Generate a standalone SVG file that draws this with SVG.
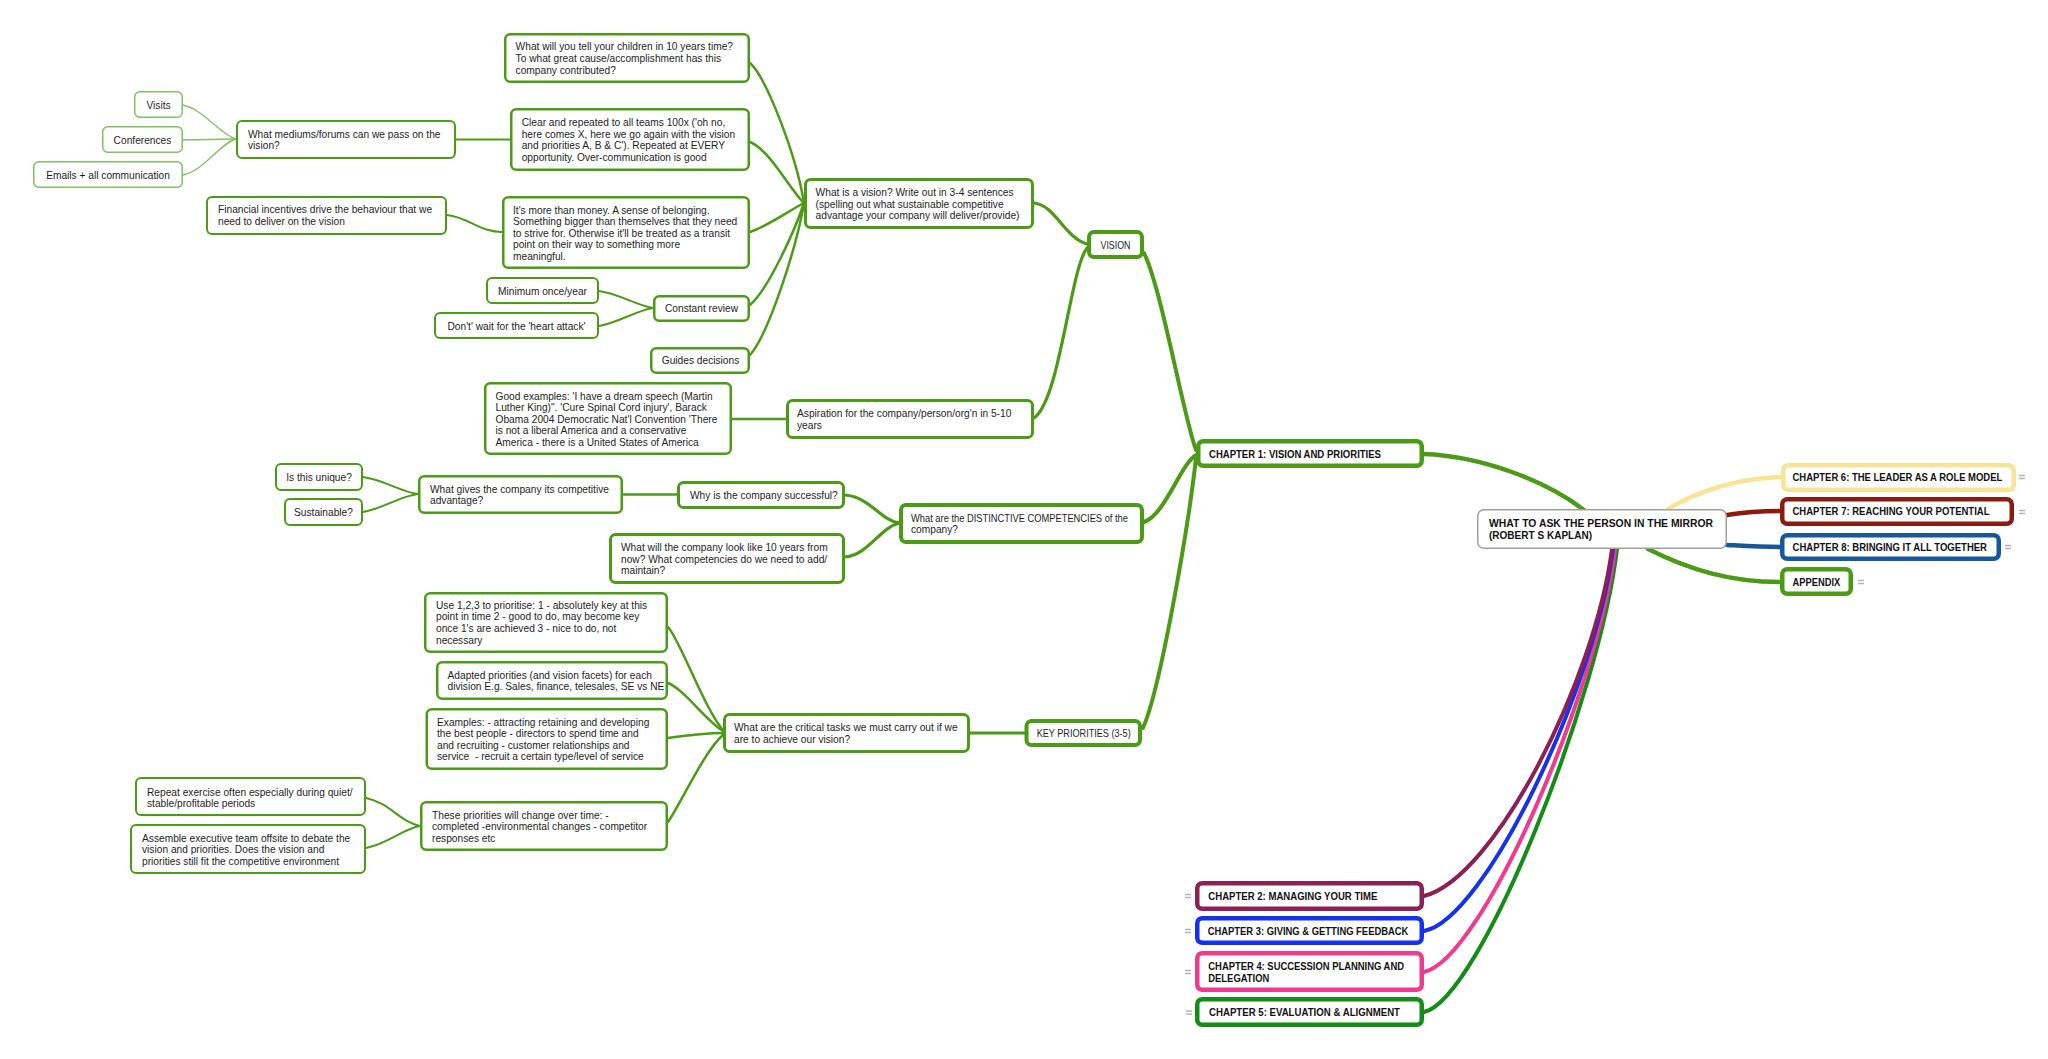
<svg xmlns="http://www.w3.org/2000/svg" width="2048" height="1059" viewBox="0 0 2048 1059">
<style>
rect.n{fill:#fff;stroke:#4b9b17}
.w1{stroke-width:4.5}
.w2{stroke-width:4}
.w3{stroke-width:3}
.w4{stroke-width:2.5}
.w5{stroke-width:2}
rect.w6{stroke-width:1.5;stroke:#82c065}
text{font-family:"Liberation Sans",Arial,sans-serif;font-size:10.2px;fill:#1e1e1e}
.m{text-anchor:middle}
.h{font-weight:bold;fill:#111}
#connectors path{fill:none;stroke:#4b9b17;stroke-linecap:round}
#connectors .c1{stroke-width:4.5}
#connectors .c2{stroke-width:4}
#connectors .c3{stroke-width:3.2}
#connectors .c4{stroke-width:2.5}
#connectors .c5{stroke-width:2}
#connectors .c6{stroke-width:1.3;stroke:#82c065}
.eq{stroke:#b4b4b4;stroke-width:1.3;fill:none}
</style>
<rect x="0" y="0" width="2048" height="1059" fill="#ffffff"/>

<g id="connectors">
  <!-- from central -->
  <path class="c1" d="M1584,510 C1545,480 1480,456 1424,454"/>
  <path class="c1" style="stroke:#f9e394" d="M1668,509 C1700,490 1740,478 1781,477"/>
  <path class="c1" style="stroke:#8e1a0f" d="M1727,515 C1745,512 1760,511 1780,511"/>
  <path class="c1" style="stroke:#16589a" d="M1727,545 C1745,546 1760,547 1780,547"/>
  <path class="c1" d="M1648,549 C1690,570 1730,582 1780,582"/>
  <path class="c2" style="stroke:#138d18" d="M1617,549 C1600,695 1480,1000 1424,1012"/>
  <path class="c2" style="stroke:#ef3a8e" d="M1615,549 C1598,690 1482,960 1424,972"/>
  <path class="c2" style="stroke:#1432ee" d="M1613,549 C1596,685 1485,920 1424,931"/>
  <path class="c2" style="stroke:#8c1f54" d="M1612,549 C1595,680 1495,878 1424,896"/>
  <!-- chapter 1 children -->
  <path class="c2" d="M1196,450 C1183,415 1162,290 1144,253"/>
  <path class="c2" d="M1196,455 C1180,465 1165,515 1144,522"/>
  <path class="c2" d="M1196,458 C1188,530 1160,690 1143,728"/>
  <!-- vision children -->
  <path class="c3" d="M1087,244 C1065,238 1055,205 1034,203"/>
  <path class="c3" d="M1087,248 C1070,270 1060,400 1034,418"/>
  <!-- what is a vision children -->
  <path class="c4" d="M750,63 C766,77 796,154 804,203"/>
  <path class="c4" d="M750,142 C770,150 790,190 804,203"/>
  <path class="c4" d="M750,232 C770,225 790,210 804,203"/>
  <path class="c4" d="M750,305 C768,290 795,230 804,203"/>
  <path class="c4" d="M750,355 C768,335 796,250 804,203"/>
  <path class="c5" d="M456,139.5 L510,139.5"/>
  <path class="c5" d="M447,215 C470,218 480,232 502,232"/>
  <path class="c6" d="M183,105 C205,110 220,135 236,139"/>
  <path class="c6" d="M183,140 L236,139"/>
  <path class="c6" d="M183,175 C205,170 220,143 236,139"/>
  <path class="c5" d="M599,291 C620,294 635,305 653,308"/>
  <path class="c5" d="M599,326 C620,322 635,311 653,308"/>
  <!-- aspiration -->
  <path class="c4" d="M732,419 L786,419"/>
  <!-- distinctive -->
  <path class="c3" d="M899,523 C880,520 870,497 845,495"/>
  <path class="c3" d="M899,523 C880,528 868,555 845,557"/>
  <path class="c4" d="M623,494.5 L677,494.5"/>
  <path class="c5" d="M363,477 C385,480 400,492 418,494"/>
  <path class="c5" d="M363,512 C385,508 400,496 418,494"/>
  <!-- key priorities -->
  <path class="c3" d="M970,733 L1025,733"/>
  <path class="c4" d="M668,627 C680,640 705,710 723,730"/>
  <path class="c4" d="M668,683 C685,690 705,720 723,731"/>
  <path class="c4" d="M668,738 C690,735 705,733 723,733"/>
  <path class="c4" d="M668,822 C680,805 705,750 723,735"/>
  <path class="c5" d="M366,798 C390,803 400,822 420,826"/>
  <path class="c5" d="M366,848 C390,843 400,830 420,826"/>
</g>

<g id="central">
  <rect x="1477.75" y="509.75" width="248.5" height="38.5" rx="6" fill="#fff" stroke="#a0a0a0" stroke-width="1.5"/>
  <text class="h" x="1489" y="527.3" textLength="224" lengthAdjust="spacingAndGlyphs">WHAT TO ASK THE PERSON IN THE MIRROR</text>
  <text class="h" x="1489" y="539.3" textLength="103" lengthAdjust="spacingAndGlyphs">(ROBERT S KAPLAN)</text>
</g>

<g id="ch6">
  <rect class="n w1" style="stroke:#f9e394" x="1783.25" y="465.25" width="230.5" height="24.5" rx="5"/>
  <text class="h" x="1792.5" y="480.5" textLength="209.8" lengthAdjust="spacingAndGlyphs">CHAPTER 6: THE LEADER AS A ROLE MODEL</text>
  <path class="eq" d="M2019,475.5 h6 M2019,478.5 h6"/>
</g>
<g id="ch7">
  <rect class="n w1" style="stroke:#8e1a0f" x="1782.25" y="499.25" width="229.5" height="24.5" rx="5"/>
  <text class="h" x="1792.5" y="515.3" textLength="197" lengthAdjust="spacingAndGlyphs">CHAPTER 7: REACHING YOUR POTENTIAL</text>
  <path class="eq" d="M2019,510.5 h6 M2019,513.5 h6"/>
</g>
<g id="ch8">
  <rect class="n w1" style="stroke:#16589a" x="1782.25" y="535.25" width="216.5" height="23.5" rx="5"/>
  <text class="h" x="1792.5" y="551" textLength="194.5" lengthAdjust="spacingAndGlyphs">CHAPTER 8: BRINGING IT ALL TOGETHER</text>
  <path class="eq" d="M2005,545.5 h6 M2005,548.5 h6"/>
</g>
<g id="appendix">
  <rect class="n w1" x="1782.25" y="569.25" width="68.5" height="24.5" rx="5"/>
  <text class="h" x="1792.5" y="585.7" textLength="47.7" lengthAdjust="spacingAndGlyphs">APPENDIX</text>
  <path class="eq" d="M1858,580.5 h6 M1858,583.5 h6"/>
</g>
<g id="ch2">
  <rect class="n w1" style="stroke:#8c1f54" x="1197.25" y="883.25" width="224.5" height="25.5" rx="5"/>
  <text class="h" x="1208.3" y="900" textLength="169" lengthAdjust="spacingAndGlyphs">CHAPTER 2: MANAGING YOUR TIME</text>
  <path class="eq" d="M1185,894.5 h6 M1185,897.5 h6"/>
</g>
<g id="ch3">
  <rect class="n w1" style="stroke:#1432ee" x="1197.25" y="918.25" width="224.5" height="24.5" rx="5"/>
  <text class="h" x="1207.7" y="935" textLength="200.7" lengthAdjust="spacingAndGlyphs">CHAPTER 3: GIVING &amp; GETTING FEEDBACK</text>
  <path class="eq" d="M1185,929.5 h6 M1185,932.5 h6"/>
</g>
<g id="ch4">
  <rect class="n w1" style="stroke:#ef3a8e" x="1197.25" y="953.25" width="224.5" height="36.5" rx="5"/>
  <text class="h" x="1208.3" y="970.3" textLength="195.7" lengthAdjust="spacingAndGlyphs">CHAPTER 4: SUCCESSION PLANNING AND</text>
  <text class="h" x="1208.3" y="981.6" textLength="61" lengthAdjust="spacingAndGlyphs">DELEGATION</text>
  <path class="eq" d="M1185,970.5 h6 M1185,973.5 h6"/>
</g>
<g id="ch5">
  <rect class="n w1" style="stroke:#138d18" x="1197.25" y="999.25" width="224.5" height="25.5" rx="5"/>
  <text class="h" x="1209" y="1016.3" textLength="191" lengthAdjust="spacingAndGlyphs">CHAPTER 5: EVALUATION &amp; ALIGNMENT</text>
  <path class="eq" d="M1186,1011 h6 M1186,1014 h6"/>
</g>

<g id="ch1">
  <rect class="n w1" x="1198.25" y="441.25" width="223.5" height="24.5" rx="5"/>
  <text class="h" x="1209" y="457.5" textLength="172" lengthAdjust="spacingAndGlyphs">CHAPTER 1: VISION AND PRIORITIES</text>
</g>

<g id="vision">
  <rect class="n w2" x="1089" y="232" width="53" height="25" rx="5"/>
  <text class="m" x="1115.5" y="248.5" textLength="30" lengthAdjust="spacingAndGlyphs">VISION</text>
</g>
<g id="what-is-vision">
  <rect class="n w3" x="805.5" y="179.5" width="227" height="48" rx="5"/>
  <text x="815.6" y="196.2">What is a vision? Write out in 3-4 sentences</text>
  <text x="815.6" y="207.7">(spelling out what sustainable competitive</text>
  <text x="815.6" y="219.2">advantage your company will deliver/provide)</text>
</g>
<g id="tell-children">
  <rect class="n w4" x="505.25" y="34.25" width="243.5" height="47.5" rx="5"/>
  <text x="515.6" y="50.2">What will you tell your children in 10 years time?</text>
  <text x="515.6" y="61.8">To what great cause/accomplishment has this</text>
  <text x="515.6" y="73.5">company contributed?</text>
</g>
<g id="clear-repeated">
  <rect class="n w4" x="511.25" y="109.25" width="237.5" height="60.5" rx="5"/>
  <text x="521.7" y="126.2">Clear and repeated to all teams 100x ('oh no,</text>
  <text x="521.7" y="137.8">here comes X, here we go again with the vision</text>
  <text x="521.7" y="149.3">and priorities A, B &amp; C'). Repeated at EVERY</text>
  <text x="521.7" y="160.8">opportunity. Over-communication is good</text>
</g>
<g id="mediums">
  <rect class="n w5" x="237" y="121" width="218" height="37" rx="5"/>
  <text x="248" y="137.5">What mediums/forums can we pass on the</text>
  <text x="248" y="149.2">vision?</text>
</g>
<g id="visits">
  <rect class="n w6" x="134.75" y="91.75" width="47.5" height="25.5" rx="5"/>
  <text class="m" x="158.5" y="108.5">Visits</text>
</g>
<g id="conferences">
  <rect class="n w6" x="102.75" y="126.75" width="79.5" height="25.5" rx="5"/>
  <text class="m" x="142.5" y="143.5">Conferences</text>
</g>
<g id="emails">
  <rect class="n w6" x="33.75" y="161.75" width="148.5" height="25.5" rx="5"/>
  <text class="m" x="108" y="178.5">Emails + all communication</text>
</g>
<g id="more-than-money">
  <rect class="n w4" x="503.25" y="197.25" width="245.5" height="70.5" rx="5"/>
  <text x="513" y="213.5">It's more than money. A sense of belonging.</text>
  <text x="513" y="225.1">Something bigger than themselves that they need</text>
  <text x="513" y="236.6">to strive for. Otherwise it'll be treated as a transit</text>
  <text x="513" y="248.3">point on their way to something more</text>
  <text x="513" y="259.9">meaningful.</text>
</g>
<g id="financial">
  <rect class="n w5" x="207" y="197" width="239" height="37" rx="5"/>
  <text x="218" y="213.2">Financial incentives drive the behaviour that we</text>
  <text x="218" y="224.8">need to deliver on the vision</text>
</g>
<g id="constant-review">
  <rect class="n w4" x="654.25" y="296.25" width="94.5" height="24.5" rx="5"/>
  <text class="m" x="701.5" y="312">Constant review</text>
</g>
<g id="minimum">
  <rect class="n w5" x="487" y="278" width="111" height="25" rx="5"/>
  <text class="m" x="542.5" y="294.5">Minimum once/year</text>
</g>
<g id="dont-wait">
  <rect class="n w5" x="435" y="313" width="163" height="25" rx="5"/>
  <text class="m" x="516.5" y="329.5">Don't' wait for the 'heart attack'</text>
</g>
<g id="guides">
  <rect class="n w4" x="651.25" y="348.25" width="97.5" height="24.5" rx="5"/>
  <text class="m" x="700.5" y="364">Guides decisions</text>
</g>
<g id="aspiration">
  <rect class="n w3" x="787.5" y="400.5" width="245" height="37" rx="5"/>
  <text x="797" y="417.2">Aspiration for the company/person/org'n in 5-10</text>
  <text x="797" y="428.6">years</text>
</g>
<g id="good-examples">
  <rect class="n w4" x="485.25" y="383.25" width="245.5" height="70.5" rx="5"/>
  <text x="495.5" y="399.8">Good examples: 'I have a dream speech (Martin</text>
  <text x="495.5" y="411.3">Luther King)". 'Cure Spinal Cord injury', Barack</text>
  <text x="495.5" y="422.8">Obama 2004 Democratic Nat'l Convention 'There</text>
  <text x="495.5" y="434.4">is not a liberal America and a conservative</text>
  <text x="495.5" y="445.9">America -  there is a United States of America</text>
</g>

<g id="distinctive">
  <rect class="n w2" x="901" y="505" width="241" height="37" rx="5"/>
  <text x="911" y="521.8" textLength="217" lengthAdjust="spacingAndGlyphs">What are the DISTINCTIVE COMPETENCIES of the</text>
  <text x="911" y="533.4">company?</text>
</g>
<g id="why-successful">
  <rect class="n w3" x="678.5" y="482.5" width="165" height="25" rx="5"/>
  <text x="690" y="498.5">Why is the company successful?</text>
</g>
<g id="competitive-advantage">
  <rect class="n w4" x="419.25" y="476.25" width="202.5" height="36.5" rx="5"/>
  <text x="430" y="492.8">What gives the company its competitive</text>
  <text x="430" y="504.4">advantage?</text>
</g>
<g id="unique">
  <rect class="n w5" x="276" y="464" width="86" height="26" rx="5"/>
  <text class="m" x="319" y="480.8">Is this unique?</text>
</g>
<g id="sustainable">
  <rect class="n w5" x="285" y="499" width="77" height="26" rx="5"/>
  <text class="m" x="323.5" y="515.8">Sustainable?</text>
</g>
<g id="ten-years">
  <rect class="n w3" x="610.5" y="534.5" width="233" height="48" rx="5"/>
  <text x="621" y="551.2">What will the company look like 10 years from</text>
  <text x="621" y="562.7">now? What competencies do we need to add/</text>
  <text x="621" y="574">maintain?</text>
</g>

<g id="key-priorities">
  <rect class="n w2" x="1026.5" y="721" width="113.5" height="24" rx="5"/>
  <text x="1036.7" y="736.8" textLength="94" lengthAdjust="spacingAndGlyphs">KEY PRIORITIES (3-5)</text>
</g>
<g id="critical-tasks">
  <rect class="n w3" x="724.5" y="714.5" width="244" height="37" rx="5"/>
  <text x="734" y="730.8">What are the critical tasks we must carry out if we</text>
  <text x="734" y="742.6">are to achieve our vision?</text>
</g>
<g id="prioritise">
  <rect class="n w4" x="425.25" y="593.25" width="241.5" height="58.5" rx="5"/>
  <text x="436" y="608.8">Use 1,2,3 to prioritise: 1 - absolutely key at this</text>
  <text x="436" y="620.4">point in time 2 - good to do, may become key</text>
  <text x="436" y="632">once 1's are achieved 3 - nice to do, not</text>
  <text x="436" y="643.6">necessary</text>
</g>
<g id="adapted">
  <rect class="n w4" x="437.25" y="662.25" width="229.5" height="36.5" rx="5"/>
  <text x="447.5" y="678.8">Adapted priorities (and vision facets) for each</text>
  <text x="447.5" y="690.4">division E.g. Sales, finance, telesales, SE vs NE</text>
</g>
<g id="examples">
  <rect class="n w4" x="426.75" y="709.25" width="240" height="59.5" rx="5"/>
  <text x="437" y="725.5">Examples: - attracting retaining and developing</text>
  <text x="437" y="737.1">the best people - directors to spend time and</text>
  <text x="437" y="748.6">and recruiting - customer relationships and</text>
  <text x="437" y="760.2" xml:space="preserve">service  - recruit a certain type/level of service</text>
</g>
<g id="change-over-time">
  <rect class="n w4" x="421.25" y="802.25" width="245.5" height="47.5" rx="5"/>
  <text x="432" y="818.5">These priorities will change over time: -</text>
  <text x="432" y="830.1">completed -environmental changes - competitor</text>
  <text x="432" y="841.7">responses etc</text>
</g>
<g id="repeat">
  <rect class="n w5" x="136" y="778" width="229" height="37" rx="5"/>
  <text x="147" y="795.8">Repeat exercise often especially during quiet/</text>
  <text x="147" y="807.3">stable/profitable periods</text>
</g>
<g id="assemble">
  <rect class="n w5" x="131" y="825" width="234" height="48" rx="5"/>
  <text x="142" y="841.8">Assemble executive team offsite to debate the</text>
  <text x="142" y="853.3">vision and priorities. Does the vision and</text>
  <text x="142" y="864.8">priorities still fit the competitive environment</text>
</g>
</svg>
